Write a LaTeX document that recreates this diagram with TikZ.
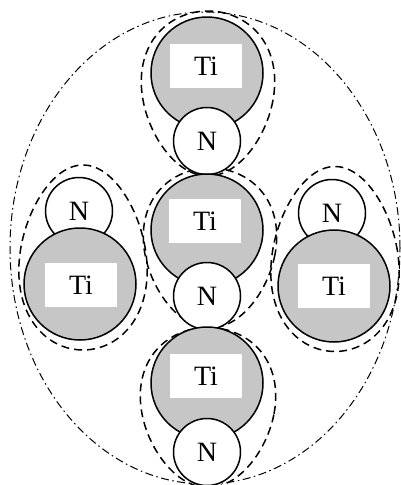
\documentclass[tikz,border=0pt]{standalone}
\usepackage{fontspec}
\setmainfont{Liberation Serif}
\tikzset{
  atomline/.style={line width=1.5pt},
  tiatom/.style={circle, draw, atomline, fill=gray!45, minimum size=112pt, inner sep=0pt},
  natom/.style={circle, draw, atomline, fill=white, minimum size=67pt, inner sep=0pt, font=\fontsize{28}{28}\selectfont},
  tilabel/.style={fill=white, minimum width=72pt, minimum height=44pt, inner sep=0pt, font=\fontsize{28}{28}\selectfont},
  pairline/.style={line width=1.5pt, dash pattern=on 8pt off 5pt},
  outerline/.style={line width=1pt, dash pattern=on 8pt off 3.5pt on 1.5pt off 3.5pt},
}
\begin{document}
\begin{tikzpicture}[x=1pt, y=-1pt]
\useasboundingbox (0,0) rectangle (401,485);
% outer dash-dot boundary
\draw[outerline] (205,248) ellipse [x radius=195pt, y radius=236pt];
% dashed pair outlines
\draw[pairline] plot[domain=0:355, samples=72, smooth cycle] ({208+66*cos(\x)*(1-0.15*sin(\x))},{93.5+82.5*sin(\x)});
\draw[pairline] plot[domain=0:355, samples=72, smooth cycle] ({210+66*cos(\x)*(1-0.15*sin(\x))},{248+80*sin(\x)});
\draw[pairline] plot[domain=0:355, samples=72, smooth cycle] ({208+67*cos(\x)*(1-0.15*sin(\x))},{407.5+80*sin(\x)});
\draw[pairline] plot[domain=0:355, samples=72, smooth cycle] ({83+63.5*cos(\x)*(1-0.15*sin(\x))},{257.5-92.5*sin(\x)});
\draw[pairline] plot[domain=0:355, samples=72, smooth cycle] ({335+63.5*cos(\x)*(1-0.15*sin(\x))},{259-92.5*sin(\x)});
% vertical chain
\node[tiatom] (ti1) at (207,73) {};
\node[natom] (n1) at (207,141) {N};
\node[tiatom] (ti2) at (207,230) {};
\node[natom] (n2) at (207,296) {N};
\node[tiatom] (ti3) at (207,383) {};
\node[natom] (n3) at (207,452) {N};
% side pairs
\node[natom] (n4) at (79,211) {N};
\node[tiatom] (ti4) at (80,284) {};
\node[natom] (n5) at (332,213) {N};
\node[tiatom] (ti5) at (334,286) {};
% Ti labels
\node[tilabel] (ti1t) at (206,66) {Ti};
\node[tilabel] (ti2t) at (205,221) {Ti};
\node[tilabel] (ti3t) at (206,376) {Ti};
\node[tilabel] (ti4t) at (81,285) {Ti};
\node[tilabel] (ti5t) at (334,286) {Ti};
\end{tikzpicture}
\end{document}
